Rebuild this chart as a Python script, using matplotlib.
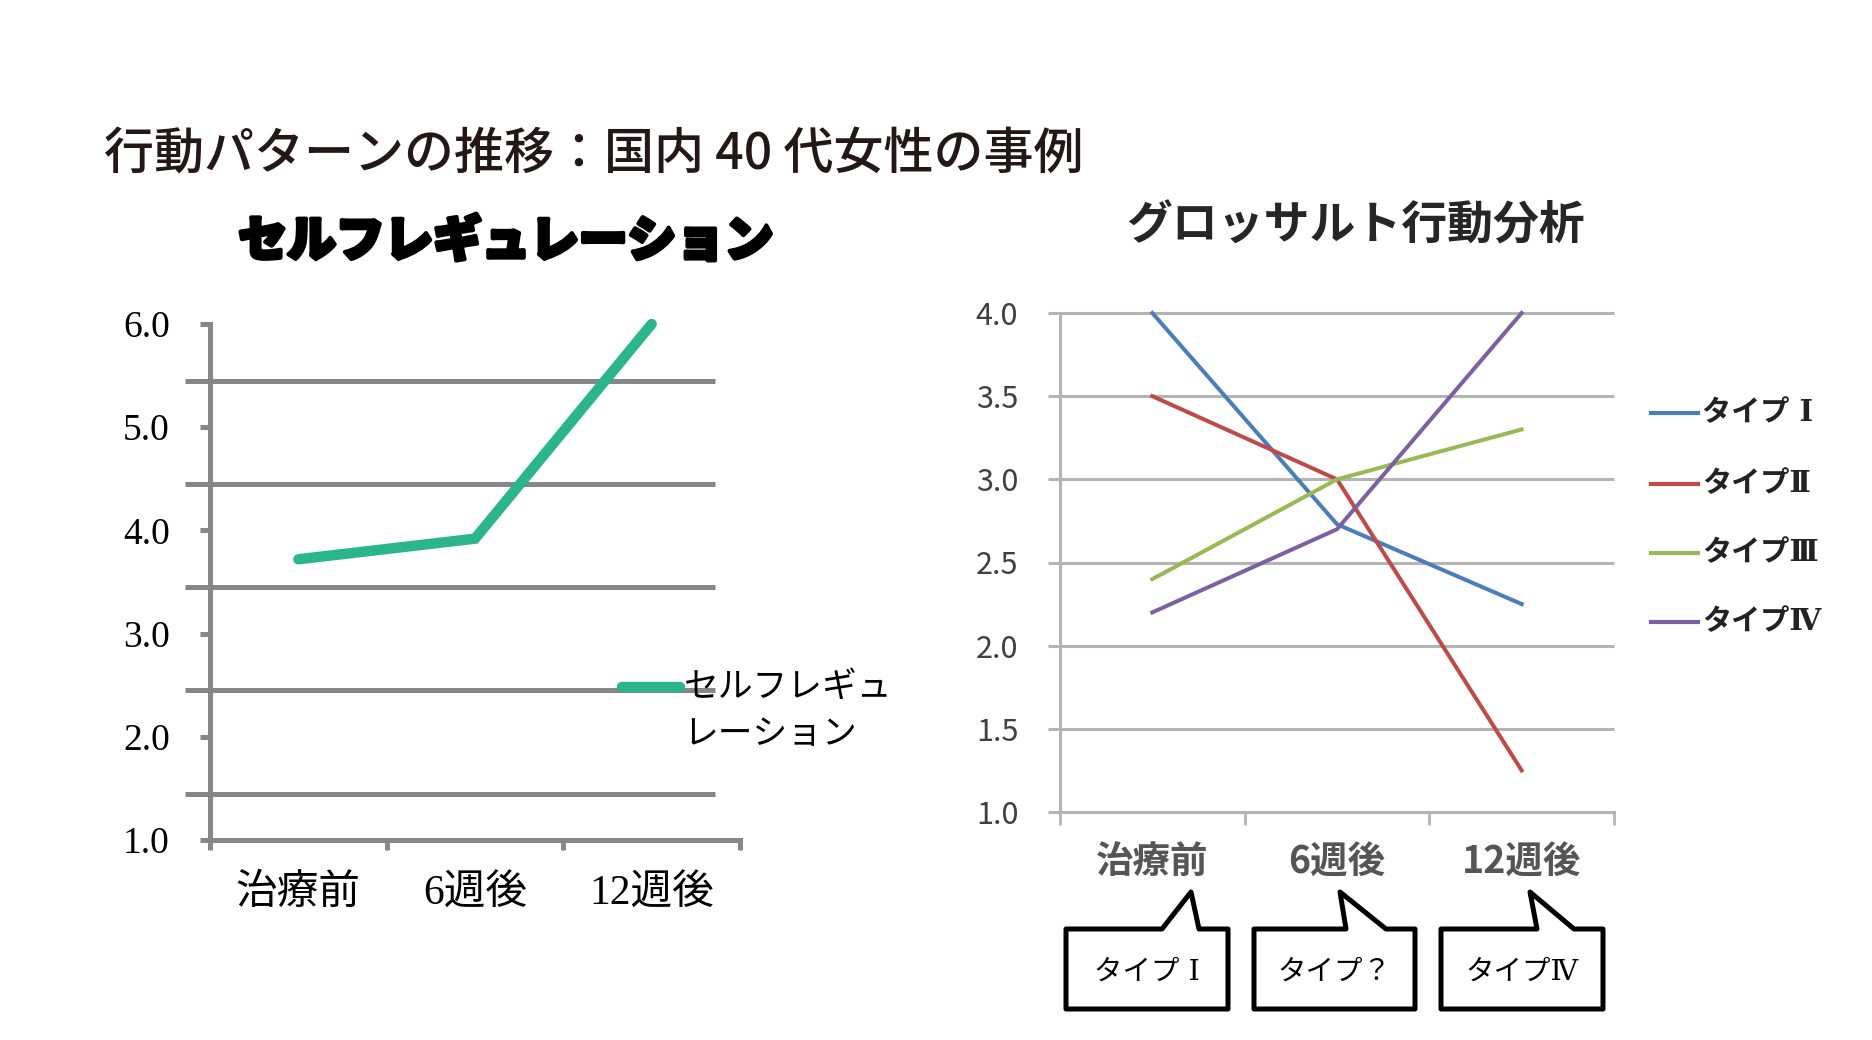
import matplotlib
matplotlib.use('Agg')
import matplotlib.pyplot as plt
import matplotlib.patheffects as pe
from matplotlib.patches import Polygon
from matplotlib.lines import Line2D

plt.rcParams['font.family'] = ['Noto Sans CJK JP', 'DejaVu Sans']

# --- data ---
stages = ['治療前', '6週後', '12週後']
self_reg = [3.72, 3.92, 6.0]
self_reg_name = ['セルフレギュ', 'レーション']

type_names = ['タイプ Ⅰ', 'タイプⅡ', 'タイプⅢ', 'タイプⅣ']
type_1 = [4.0, 2.73, 2.25]
type_2 = [3.5, 3.0, 1.25]
type_3 = [2.4, 3.0, 3.3]
type_4 = [2.2, 2.7, 4.0]
type_colors = ['#4a7ebb', '#be4b48', '#98b954', '#7d60a0']
callout_texts = ['タイプ Ⅰ', 'タイプ？', 'タイプⅣ']

left_ticks = [1, 2, 3, 4, 5, 6]
left_grid = [1.45, 2.45, 3.45, 4.45, 5.45]
right_ticks = [1.0, 1.5, 2.0, 2.5, 3.0, 3.5, 4.0]

W, H = 1872, 1040
fig = plt.figure(figsize=(W / 100, H / 100), dpi=100)
fig.patch.set_facecolor('white')


def fx(px):
    return px / W


def fy(py):
    return 1 - py / H


xs = [0.5, 1.5, 2.5]
mixed = ['Liberation Serif', 'Noto Sans CJK JP']

# main title
fig.text(fx(104), fy(155), '行動パターンの推移：国内 40 代女性の事例',
         ha='left', va='center', fontsize=36, color='#231815', weight='medium')

# ---------- left chart ----------
gray = '#878787'
ax1 = fig.add_axes([fx(210), fy(840), 530 / W, 516 / H])
ax1.set_xlim(0, 3)
ax1.set_ylim(1, 6)
ax1.hlines(left_grid, -0.14, 2.86, color=gray, lw=3.6, clip_on=False, zorder=1)
ax1.plot(xs, self_reg, color='#2bb58b', lw=7.5, solid_capstyle='round',
         solid_joinstyle='miter', clip_on=False, zorder=3)
for s in ['top', 'right']:
    ax1.spines[s].set_visible(False)
for s in ['left', 'bottom']:
    ax1.spines[s].set_color(gray)
    ax1.spines[s].set_linewidth(3.6)
ax1.set_yticks(left_ticks)
ax1.set_yticklabels([f'{v:.1f}' for v in left_ticks], family='Liberation Serif', fontsize=27)
ax1.set_xticks([0, 1, 2, 3])
ax1.set_xticklabels([])
ax1.tick_params(axis='y', length=7, width=3.6, color=gray, pad=22)
ax1.tick_params(axis='x', length=7, width=3.6, color=gray)
for xi, s in zip(xs, stages):
    ax1.text(xi, -0.105, s, transform=ax1.get_xaxis_transform(), ha='center',
             va='center', fontsize=30, family=mixed)

# legend of left chart
ax1.plot([2.33, 2.66], [2.48, 2.48], color='#2bb58b', lw=7.5,
         solid_capstyle='round', clip_on=False, zorder=4)
ax1.text(2.68, 2.48, self_reg_name[0], va='center', fontsize=25)
ax1.text(2.68, 2.02, self_reg_name[1], va='center', fontsize=25)

fig.text(fx(506), fy(242), 'セルフレギュレーション', ha='center', va='center',
         fontsize=35, weight='heavy', color='black',
         path_effects=[pe.withStroke(linewidth=3, foreground='black')])

# ---------- right chart ----------
gline = '#b4b4b4'
txt = '#404040'
ax2 = fig.add_axes([fx(1060), fy(812), 554 / W, 499 / H])
ax2.set_xlim(0, 3)
ax2.set_ylim(1, 4)
ax2.hlines(right_ticks, -0.065, 3, color=gline, lw=2.2, clip_on=False, zorder=1)
for vals, c, name in zip([type_1, type_2, type_3, type_4], type_colors, type_names):
    ax2.plot(xs, vals, color=c, lw=2.9, label=name, clip_on=False, zorder=3)
for s in ['top', 'right']:
    ax2.spines[s].set_visible(False)
for s in ['left', 'bottom']:
    ax2.spines[s].set_color(gline)
    ax2.spines[s].set_linewidth(2.2)
ax2.set_yticks(right_ticks)
ax2.set_yticklabels([f'{v:.1f}' for v in right_ticks], fontsize=22, color=txt)
ax2.tick_params(axis='y', length=0, pad=30)
ax2.set_xticks([0, 1, 2, 3])
ax2.set_xticklabels([])
ax2.tick_params(axis='x', length=9, width=2, color=gline)
for xi, s in zip(xs, stages):
    ax2.text(xi, -0.1, s, transform=ax2.get_xaxis_transform(), ha='center',
             va='center', fontsize=27, weight='bold', color='#555555')

fig.text(fx(1356), fy(227), 'グロッサルト行動分析', ha='center', va='center',
         fontsize=33, weight='bold', color='#262626')

# legend of right chart
for ly, c, name in zip([413, 484, 553, 622], type_colors, type_names):
    fig.add_artist(Line2D([fx(1651), fx(1698)], [fy(ly), fy(ly)],
                          transform=fig.transFigure, color=c, lw=3))
    fig.text(fx(1702), fy(ly), name, ha='left', va='center', fontsize=21,
             weight='bold', color='#222222', family=['DejaVu Serif', 'Noto Sans CJK JP'])

# callouts
boxes = [(1066, 1228, 1162, 1191, 1199),
         (1254, 1415, 1346, 1340, 1386),
         (1441, 1603, 1537, 1530, 1574)]
top, bottom, tip_y = 929, 1009, 892
for (x0, x1, bl, tip, br), t in zip(boxes, callout_texts):
    pts = [(x0, bottom), (x0, top), (bl, top), (tip, tip_y), (br, top),
           (x1, top), (x1, bottom)]
    fig.add_artist(Polygon([(fx(a), fy(b)) for a, b in pts], closed=True,
                           transform=fig.transFigure, facecolor='white',
                           edgecolor='black', lw=3.6, joinstyle='round'))
    fig.text(fx((x0 + x1) / 2), fy(972), t, ha='center', va='center',
             fontsize=20.5, color='black', family=['DejaVu Serif', 'Noto Sans CJK JP'])

fig.savefig('out.png', dpi=100)
